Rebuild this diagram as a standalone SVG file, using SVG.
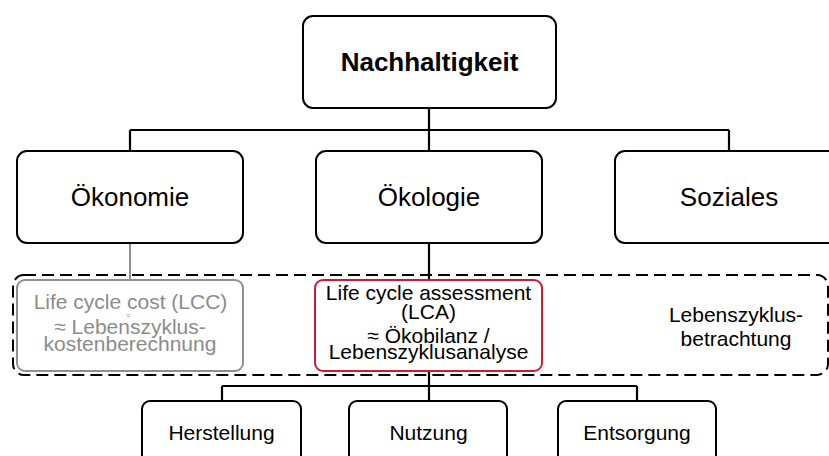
<svg xmlns="http://www.w3.org/2000/svg" width="829" height="456" viewBox="0 0 829 456">
  <style>
    .box { fill: #ffffff; stroke: #000000; stroke-width: 2; }
    .lbl { font-family: "Liberation Sans", Arial, sans-serif; text-anchor: middle; fill: #000000; }
    .big { font-size: 26px; }
    .mid { font-size: 21px; }
    .muted { fill: #8c8c8c; }
    .conn { fill: none; stroke: #000000; stroke-width: 2.2; }
    .grey { fill: none; stroke: #8f8f8f; stroke-width: 2; }
  </style>
  <rect width="829" height="456" fill="#ffffff"/>

  <!-- connectors -->
  <g id="connectors">
    <path class="conn" d="M429 108 V130 M130 130 H729 M130 130 V151 M429 130 V151 M729 130 V151"/>
    <path class="grey" d="M130 243 V280"/>
    <path class="conn" d="M429 243 V280"/>
    <path class="conn" d="M429 371 V386 M222 386 H637 M222 386 V401 M429 386 V401 M637 386 V401"/>
  </g>

  <!-- life-cycle scope frame -->
  <g id="scope">
    <rect x="13" y="275" width="815" height="100" rx="11" fill="none" stroke="#000000" stroke-width="2" stroke-dasharray="12 6"/>
    <text class="lbl mid" x="736" y="322"><tspan x="736">Lebenszyklus-</tspan><tspan x="736" y="346">betrachtung</tspan></text>
  </g>

  <g id="nachhaltigkeit">
    <rect class="box" x="303" y="16" width="253" height="92" rx="10"/>
    <text class="lbl big" x="429.5" y="71" font-weight="bold">Nachhaltigkeit</text>
  </g>

  <g id="oekonomie">
    <rect class="box" x="17" y="151" width="226" height="92" rx="10"/>
    <text class="lbl big" x="130" y="206">Ökonomie</text>
  </g>

  <g id="oekologie">
    <rect class="box" x="316" y="151" width="226" height="92" rx="10"/>
    <text class="lbl big" x="429" y="206">Ökologie</text>
  </g>

  <g id="soziales">
    <rect class="box" x="615" y="151" width="230" height="92" rx="10"/>
    <text class="lbl big" x="729" y="206">Soziales</text>
  </g>

  <g id="lcc">
    <rect x="17" y="280" width="226" height="91" rx="8" fill="#ffffff" stroke="#8f8f8f" stroke-width="2"/>
    <text class="lbl mid muted" x="130.5" y="309"><tspan x="130.5">Life cycle cost (LCC)</tspan><tspan x="128" y="318" font-size="7">=</tspan><tspan x="130" y="334">≈ Lebenszyklus-</tspan><tspan x="130" y="351">kostenberechnung</tspan></text>
  </g>

  <g id="lca">
    <rect x="315" y="280" width="227" height="91" rx="8" fill="#ffffff" stroke="#cc1a3a" stroke-width="2"/>
    <text class="lbl mid" x="428.5" y="300"><tspan x="428.5">Life cycle assessment</tspan><tspan x="428.5" y="319">(LCA)</tspan><tspan x="428.5" y="342.5">≈ Ökobilanz /</tspan><tspan x="428.5" y="359">Lebenszyklusanalyse</tspan></text>
  </g>

  <g id="herstellung">
    <rect class="box" x="142" y="401" width="159" height="64" rx="8"/>
    <text class="lbl mid" x="221.5" y="440">Herstellung</text>
  </g>

  <g id="nutzung">
    <rect class="box" x="349" y="401" width="158" height="64" rx="8"/>
    <text class="lbl mid" x="428.5" y="440">Nutzung</text>
  </g>

  <g id="entsorgung">
    <rect class="box" x="558" y="401" width="158" height="64" rx="8"/>
    <text class="lbl mid" x="637" y="440">Entsorgung</text>
  </g>
</svg>
